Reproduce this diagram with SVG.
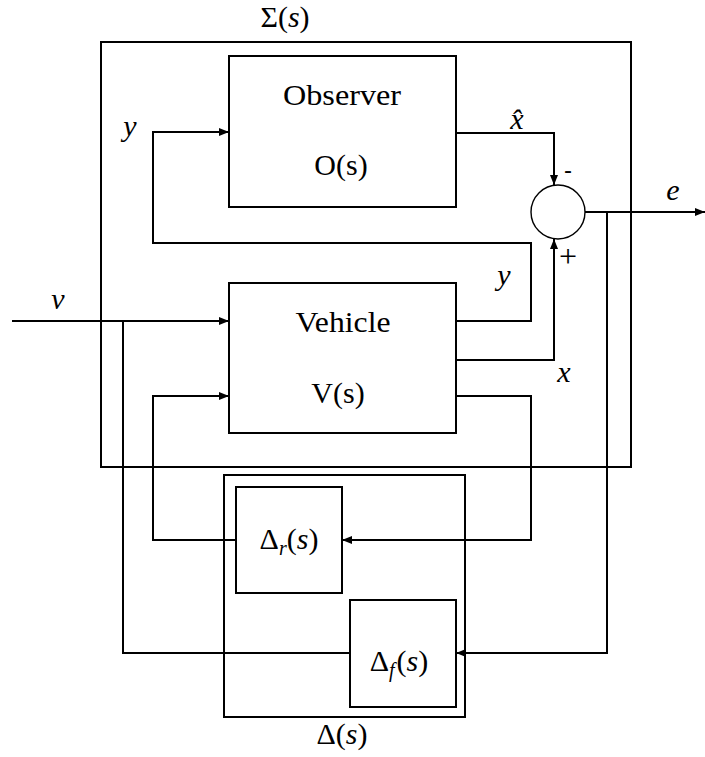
<svg xmlns="http://www.w3.org/2000/svg" width="705" height="757" viewBox="0 0 705 757">
<style>
.box{fill:none;stroke:#000;stroke-width:2}
.w{fill:none;stroke:#000;stroke-width:2;stroke-linejoin:miter}
.a{marker-end:url(#arr)}
.t{font-family:'Liberation Serif',serif;font-size:30px;fill:#000;text-anchor:middle}
.i{font-style:italic}
</style>
<defs>
<marker id="arr" viewBox="0 0 10 8" refX="10" refY="4" markerWidth="10" markerHeight="8" markerUnits="userSpaceOnUse" orient="auto">
<path d="M0,0 L10,4 L0,8 z" fill="#000"/>
</marker>
</defs>
<g id="sigma">
<rect class="box" x="101" y="42" width="530" height="425"/>
<text class="t" x="285" y="27">Σ(<tspan class="i">s</tspan>)</text>
</g>
<g id="observer">
<rect class="box" x="229" y="56" width="227" height="151"/>
<text class="t" x="342" y="105" textLength="118" lengthAdjust="spacingAndGlyphs">Observer</text>
<text class="t" x="341" y="175">O(s)</text>
</g>
<g id="vehicle">
<rect class="box" x="229" y="283" width="227" height="150"/>
<text class="t" x="343" y="332" textLength="95" lengthAdjust="spacingAndGlyphs">Vehicle</text>
<text class="t" x="338" y="403">V(s)</text>
</g>
<g id="sum">
<circle cx="558" cy="212" r="27" fill="none" stroke="#000" stroke-width="1.4"/>
<text x="568" y="178" font-family="Liberation Sans" font-size="24" text-anchor="middle">-</text>
<text class="t" x="568" y="267" style="font-size:32px">+</text>
</g>
<g id="delta">
<rect class="box" x="224" y="475" width="241" height="242"/>
<text class="t" x="342" y="744">Δ(<tspan class="i">s</tspan>)</text>
</g>
<g id="delta-r">
<rect class="box" x="236" y="487" width="106" height="106"/>
<text class="t" x="289" y="549">Δ<tspan class="i" font-size="20" dy="6">r</tspan><tspan dy="-6">(</tspan><tspan class="i">s</tspan>)</text>
</g>
<g id="delta-f">
<rect class="box" x="350" y="600" width="106" height="107"/>
<text class="t" x="399" y="671">Δ<tspan class="i" font-size="20" dy="6">f</tspan><tspan dy="-6" dx="2">(</tspan><tspan class="i">s</tspan>)</text>
</g>
<g id="connectors">
<path class="w a" d="M456,321 H531 V243 H153 V132 H229"/>
<path class="w a" d="M456,133 H554 V185"/>
<path class="w a" d="M456,360 H554 V239"/>
<path class="w a" d="M585,212 H705"/>
<path class="w a" d="M607,212 V653 H456"/>
<path class="w a" d="M12,321 H229"/>
<path class="w" d="M123,321 V653 H350"/>
<path class="w a" d="M456,396 H531 V540 H342"/>
<path class="w a" d="M236,540 H153 V396 H229"/>
</g>
<g id="labels">
<text class="t i" x="130" y="136">y</text>
<text class="t i" x="517" y="129">x̂</text>
<text class="t i" x="673" y="200">e</text>
<text class="t i" x="58" y="309">v</text>
<text class="t i" x="504" y="285">y</text>
<text class="t i" x="564" y="382">x</text>
</g>
</svg>
